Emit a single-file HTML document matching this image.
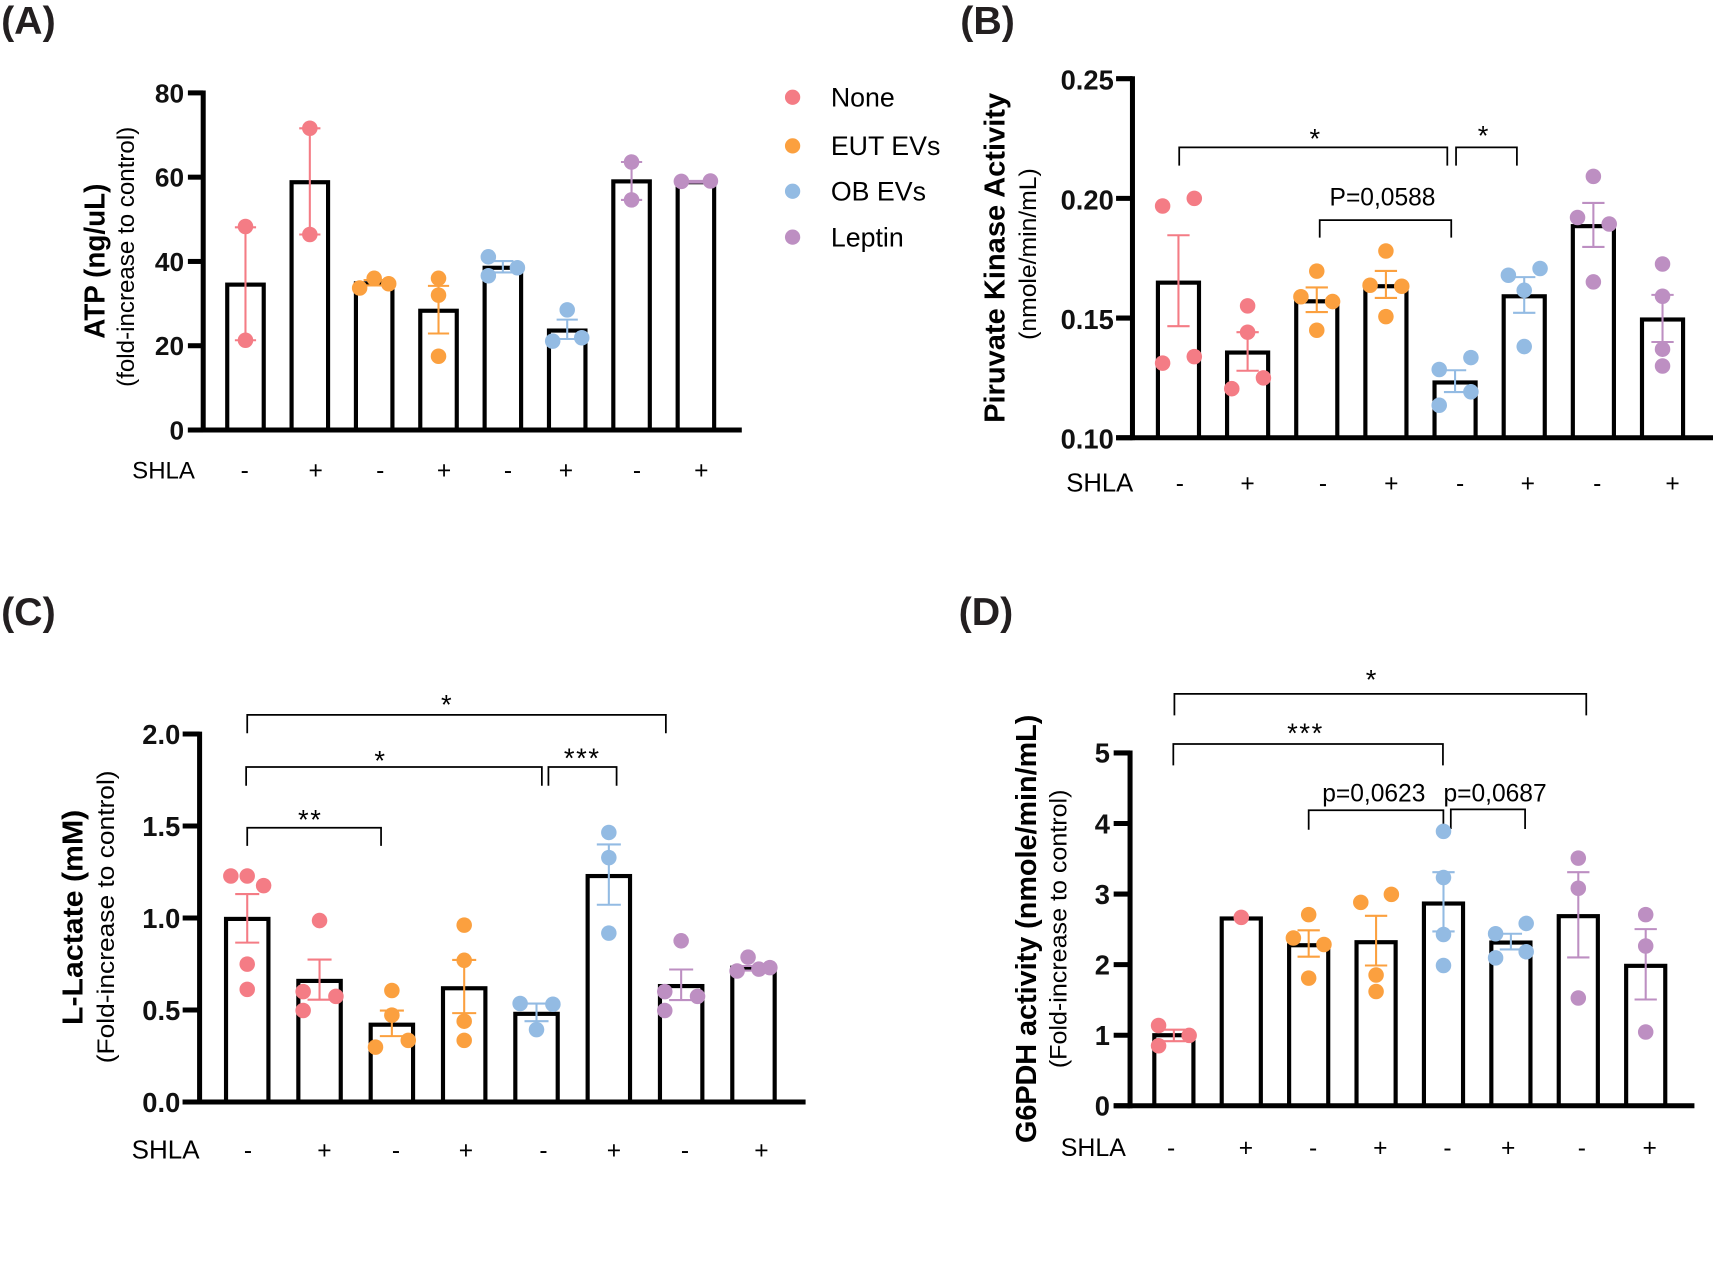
<!DOCTYPE html>
<html lang="en">
<head>
<meta charset="utf-8">
<title>Metabolic activity panels</title>
<style>
html,body{margin:0;padding:0;background:#fff;width:1713px;height:1272px;overflow:hidden}
svg{display:block;font-family:"Liberation Sans",Arial,sans-serif}
.pl{font-size:36px;font-weight:bold;fill:#231f20}
.ti{font-size:26.5px;font-weight:bold;fill:#000}
.su{font-size:22px;fill:#000}
.sh{font-size:22px;fill:#000}
.si{font-size:22.5px;fill:#000;text-anchor:middle}
.le{font-size:24.5px;fill:#000}
.an{font-size:22.5px;fill:#000;text-anchor:middle}
.st{font-size:25px;fill:#000;text-anchor:middle}
.br{fill:none;stroke:#000;stroke-width:1.6}
</style>
</head>
<body>
<svg id="figure" xmlns="http://www.w3.org/2000/svg" width="1713" height="1272" viewBox="0 0 1568 1164" preserveAspectRatio="none">
  <text class="pl" x="1" y="31">(A)</text>
  <text class="pl" x="879" y="31">(B)</text>
  <text class="pl" x="1" y="572">(C)</text>
  <text class="pl" x="877.5" y="572">(D)</text>

  <g>
    <circle cx="725.5" cy="89" r="7" fill="#f47c85"/>
    <text class="le" x="760.5" y="97.5">None</text>
    <circle cx="725.5" cy="133.5" r="7" fill="#fba03f"/>
    <text class="le" x="760.5" y="142">EUT EVs</text>
    <circle cx="725.5" cy="175" r="7" fill="#93bbe3"/>
    <text class="le" x="760.5" y="183.5">OB EVs</text>
    <circle cx="725.5" cy="217" r="7" fill="#bd8fc2"/>
    <text class="le" x="760.5" y="225.5">Leptin</text>
  </g>

  <!-- Axis titles -->
  <text class="ti" transform="translate(95.5,239) rotate(-90)" text-anchor="middle" textLength="142" lengthAdjust="spacingAndGlyphs">ATP (ng/uL)</text>
  <text class="su" transform="translate(122.5,235) rotate(-90)" text-anchor="middle" textLength="238" lengthAdjust="spacingAndGlyphs">(fold-increase to control)</text>
  <text class="ti" transform="translate(919.7,236) rotate(-90)" text-anchor="middle" textLength="302" lengthAdjust="spacingAndGlyphs">Piruvate Kinase Activity</text>
  <text class="su" transform="translate(948.5,232.5) rotate(-90)" text-anchor="middle" textLength="157" lengthAdjust="spacingAndGlyphs">(nmole/min/mL)</text>
  <text class="ti" transform="translate(75.5,839.5) rotate(-90)" text-anchor="middle" textLength="197" lengthAdjust="spacingAndGlyphs">L-Lactate (mM)</text>
  <text class="su" transform="translate(104.5,839) rotate(-90)" text-anchor="middle" textLength="268" lengthAdjust="spacingAndGlyphs">(Fold-increase to control)</text>
  <text class="ti" transform="translate(948.5,850) rotate(-90)" text-anchor="middle" textLength="392" lengthAdjust="spacingAndGlyphs">G6PDH activity (nmole/min/mL)</text>
  <text class="su" transform="translate(976,850) rotate(-90)" text-anchor="middle" textLength="255" lengthAdjust="spacingAndGlyphs">(Fold-increase to control)</text>

  <!-- SHLA rows -->
  <g>
    <text class="sh" x="121" y="438">SHLA</text>
    <text class="si" x="224" y="438">-</text>
    <text class="si" x="289" y="438">+</text>
    <text class="si" x="348" y="438">-</text>
    <text class="si" x="406.5" y="438">+</text>
    <text class="si" x="465" y="438">-</text>
    <text class="si" x="518" y="438">+</text>
    <text class="si" x="583" y="438">-</text>
    <text class="si" x="642" y="438">+</text>
  </g>
  <g>
    <text class="sh" x="976" y="450" style="font-size:23.5px">SHLA</text>
    <text class="si" x="1080" y="450">-</text>
    <text class="si" x="1142" y="450">+</text>
    <text class="si" x="1211" y="450">-</text>
    <text class="si" x="1273.5" y="450">+</text>
    <text class="si" x="1336.5" y="450">-</text>
    <text class="si" x="1398.5" y="450">+</text>
    <text class="si" x="1462" y="450">-</text>
    <text class="si" x="1531" y="450">+</text>
  </g>
  <g>
    <text class="sh" x="120.5" y="1060" style="font-size:23.8px">SHLA</text>
    <text class="si" x="227" y="1060">-</text>
    <text class="si" x="297" y="1060">+</text>
    <text class="si" x="362.5" y="1060">-</text>
    <text class="si" x="426.5" y="1060">+</text>
    <text class="si" x="497.5" y="1060">-</text>
    <text class="si" x="562" y="1060">+</text>
    <text class="si" x="627" y="1060">-</text>
    <text class="si" x="697" y="1060">+</text>
  </g>
  <g>
    <text class="sh" x="971" y="1058" style="font-size:22.8px">SHLA</text>
    <text class="si" x="1072" y="1058">-</text>
    <text class="si" x="1140.5" y="1058">+</text>
    <text class="si" x="1202" y="1058">-</text>
    <text class="si" x="1263.5" y="1058">+</text>
    <text class="si" x="1325" y="1058">-</text>
    <text class="si" x="1380.5" y="1058">+</text>
    <text class="si" x="1448" y="1058">-</text>
    <text class="si" x="1510" y="1058">+</text>
  </g>

  <!-- Significance brackets -->
  <g>
    <path class="br" d="M1079.4 151.6V134.9H1324.8V151.6"/>
    <text class="st" x="1203.5" y="135.5">*</text>
    <path class="br" d="M1332.8 151.6V134.9H1388.5V151.6"/>
    <text class="st" x="1357.5" y="132.5">*</text>
    <path class="br" d="M1208 217.5V201.4H1328.4V217.5"/>
    <text class="an" x="1265.5" y="188">P=0,0588</text>
  </g>
  <g>
    <path class="br" d="M226.3 671V654.2H609.5V671"/>
    <text class="st" x="408.5" y="653.5">*</text>
    <path class="br" d="M225.3 719V701.9H496V719"/>
    <text class="st" x="347.5" y="704.5">*</text>
    <path class="br" d="M502 719V701.9H564.4V719"/>
    <text class="st" x="533" y="702.5" letter-spacing="1.5">***</text>
    <path class="br" d="M226.3 774V757.5H348.8V774"/>
    <text class="st" x="284" y="758.5" letter-spacing="1.5">**</text>
  </g>
  <g>
    <path class="br" d="M1075 654.6V635H1452V654.6"/>
    <text class="st" x="1255" y="630.5">*</text>
    <path class="br" d="M1074 700.4V680.8H1320.8V700.4"/>
    <text class="st" x="1195" y="679.5" letter-spacing="1.5">***</text>
    <path class="br" d="M1197.9 759.3V741.4H1321.2V759.3"/>
    <text class="an" x="1257.5" y="733.5">p=0,0623</text>
    <path class="br" d="M1328 758.6V740.7H1396V758.6"/>
    <text class="an" x="1368.5" y="733.5">p=0,0687</text>
  </g>

  <g id="panel-a"></g>
  <g id="panel-b"></g>
  <g id="panel-c"></g>
  <g id="panel-d"></g>
</svg>

<script>
// Shared categories
const categories = ['None -','None +','EUT EVs -','EUT EVs +','OB EVs -','OB EVs +','Leptin -','Leptin +'];
const groupIndex = [0,0,1,1,2,2,3,3];

// Panel A: ATP
const aTicks = [0,20,40,60,80];
const aTickLabels = ['0','20','40','60','80'];
const aMeans = [34.5,58.8,34.8,28.3,38.5,23.6,59,58.8];
const aErrUpper = [48.1,71.6,35.6,34.2,40.1,26.2,63.6,59.1];
const aErrLower = [21.3,46.4,34.3,22.9,37.4,21.6,54.6,58.7];
const aPoints = [[48.3,21.3],[71.6,46.4],[33.7,36,34.7],[36,32,17.5],[41.1,36.6,38.5],[28.5,21.1,21.9],[63.6,54.6],[59,59.1]];
const aSwarmLanes = [[0,0],[0,0],[-1,0,1],[0,0,0],[-1,-1,1],[0,-1,1],[0,0],[-1,1]];

// Panel B: pyruvate kinase
const bTicks = [0.10,0.15,0.20,0.25];
const bTickLabels = ['0.10','0.15','0.20','0.25'];
const bMeans = [0.1648,0.1356,0.157,0.1633,0.1231,0.1591,0.1884,0.1494];
const bErrUpper = [0.1846,0.1441,0.1628,0.1697,0.1282,0.1671,0.1981,0.1597];
const bErrLower = [0.1466,0.128,0.1525,0.1584,0.1191,0.1522,0.1797,0.14];
const bPoints = [[0.1968,0.1312,0.2,0.1339],[0.1551,0.1441,0.1205,0.125],[0.1696,0.1449,0.1589,0.1569],[0.178,0.1506,0.1637,0.1633],[0.1335,0.1285,0.1192,0.1136],[0.1679,0.1707,0.1616,0.1381],[0.2092,0.192,0.1893,0.1651],[0.1726,0.1591,0.137,0.13]];
const bSwarmLanes = [[-1,-1,1,1],[0,0,-1,1],[0,0,-1,1],[0,0,-1,1],[1,-1,1,-1],[-1,1,0,0],[0,-1,1,0],[0,0,0,0]];

// Panel C: L-lactate
const cTicks = [0,0.5,1,1.5,2];
const cTickLabels = ['0.0','0.5','1.0','1.5','2.0'];
const cMeans = [0.995,0.658,0.42,0.618,0.479,1.228,0.63,0.73];
const cErrUpper = [1.13,0.774,0.497,0.772,0.535,1.4,0.72,0.739];
const cErrLower = [0.866,0.556,0.358,0.483,0.439,1.072,0.554,0.714];
const cPoints = [[1.228,1.228,1.176,0.749,0.612],[0.986,0.6,0.497,0.574],[0.606,0.472,0.298,0.335],[0.961,0.77,0.439,0.335],[0.535,0.531,0.393],[1.465,1.328,0.918],[0.876,0.6,0.497,0.574],[0.712,0.787,0.722,0.73]];
const cSwarmLanes = [[-1,0,1,0,0],[0,-1,-1,1],[0,0,-1,1],[0,0,0,0],[-1,1,0],[0,0,0],[0,-1,-1,1],[-1,-0.33,0.33,1]];

// Panel D: G6PDH
const dTicks = [0,1,2,3,4,5];
const dTickLabels = ['0','1','2','3','4','5'];
const dMeans = [1,2.654,2.275,2.318,2.866,2.313,2.687,1.983];
const dErrUpper = [1.078,null,2.486,2.692,3.31,2.438,3.31,2.503];
const dErrLower = [0.915,null,2.113,1.988,2.47,2.216,2.102,1.506];
const dPoints = [[1.138,0.85,0.997],[2.67],[2.709,1.809,2.378,2.286],[2.882,2.996,1.853,1.62],[3.889,3.234,2.427,1.988],[2.438,2.584,2.183,2.096],[3.51,3.082,1.528],[2.709,2.264,1.046]];
const dSwarmLanes = [[-1,-1,1],[0],[0,0,-1,1],[-1,1,0,0],[0,0,0,0],[-1,1,1,-1],[0,0,0],[0,0,0]];

const groupColors = ['#f47c85','#fba03f','#93bbe3','#bd8fc2'];
const NS = 'http://www.w3.org/2000/svg';

function make(parent, tag, props) {
  const el = document.createElementNS(NS, tag);
  for (const k in props) el.setAttribute(k, props[k]);
  parent.appendChild(el);
  return el;
}

function drawPanel(id, data, geo) {
  const root = document.getElementById(id);
  const yMin = data.ticks[0];
  const yMax = data.ticks[data.ticks.length - 1];
  const yScale = v => geo.yBottom + (v - yMin) * (geo.yTop - geo.yBottom) / (yMax - yMin);
  const xScale = i => geo.xFirst + i * geo.xStep;

  categories.forEach((cat, i) => {
    const cx = xScale(i);
    const color = groupColors[groupIndex[i]];
    const top = yScale(data.means[i]);

    const bar = make(root, 'rect', {x: cx - geo.barWidth / 2, y: top, width: geo.barWidth, height: geo.yBottom - top, fill: '#fff', stroke: '#000', 'stroke-width': 3.8});
    
    
    bar.setAttribute('aria-label', cat);

    if (data.upper[i] !== null) {
      const yU = yScale(data.upper[i]);
      const yL = yScale(data.lower[i]);
      const whisker = make(root, 'path', {
        d: 'M' + (cx - geo.cap) + ' ' + yU + 'H' + (cx + geo.cap) + 'M' + cx + ' ' + yU + 'V' + yL + 'M' + (cx - geo.cap) + ' ' + yL + 'H' + (cx + geo.cap),
        fill: 'none', stroke: color, 'stroke-width': 1.9
      });
      
      
    }

    data.points[i].forEach((v, j) => {
      const dot = make(root, 'circle', {cx: cx + data.lanes[i][j] * geo.laneStep, cy: yScale(v), r: 7.1, fill: color});
      
      
    });
  });

  const yAxis = make(root, 'line', {x1: geo.xAxis, x2: geo.xAxis, y1: geo.yTop - 2.2, y2: geo.yBottom + 2.2, stroke: '#000', 'stroke-width': 4.6});
  
  

  const xAxis = make(root, 'line', {x1: geo.xAxis - geo.tickLen, x2: geo.xEnd, y1: geo.yBottom, y2: geo.yBottom, stroke: '#000', 'stroke-width': 4.6});
  
  

  data.ticks.forEach((t, i) => {
    const y = yScale(t);
    const tick = make(root, 'line', {x1: geo.xAxis - geo.tickLen, x2: geo.xAxis, y1: y, y2: y, stroke: '#000', 'stroke-width': 4.6});
    
    

    const label = make(root, 'text', {x: geo.labelRight, y: y + geo.labelShift, dy: '.36em', 'text-anchor': 'end', 'font-size': geo.tickFont, 'font-weight': 'bold', fill: '#111'});
    label.textContent = data.tickLabels[i];
    
    
  });
}

drawPanel('panel-a',
  {ticks: aTicks, tickLabels: aTickLabels, means: aMeans, upper: aErrUpper, lower: aErrLower, points: aPoints, lanes: aSwarmLanes},
  {xAxis: 186, xEnd: 679, yTop: 85, yBottom: 393.5, xFirst: 224.7, xStep: 58.9, barWidth: 33.4, cap: 9.7, laneStep: 13.3, tickLen: 14, labelRight: 168.5, tickFont: 24, labelShift: 0});

drawPanel('panel-b',
  {ticks: bTicks, tickLabels: bTickLabels, means: bMeans, upper: bErrUpper, lower: bErrLower, points: bPoints, lanes: bSwarmLanes},
  {xAxis: 1036.6, xEnd: 1568, yTop: 72, yBottom: 400.6, xFirst: 1078.7, xStep: 63.3, barWidth: 37.6, cap: 10.2, laneStep: 14.5, tickLen: 15, labelRight: 1019.5, tickFont: 25, labelShift: 1});

drawPanel('panel-c',
  {ticks: cTicks, tickLabels: cTickLabels, means: cMeans, upper: cErrUpper, lower: cErrLower, points: cPoints, lanes: cSwarmLanes},
  {xAxis: 182.7, xEnd: 737.4, yTop: 671.7, yBottom: 1008.4, xFirst: 226.3, xStep: 66.2, barWidth: 38.8, cap: 11, laneStep: 15, tickLen: 15.5, labelRight: 165, tickFont: 25, labelShift: 0});

drawPanel('panel-d',
  {ticks: dTicks, tickLabels: dTickLabels, means: dMeans, upper: dErrUpper, lower: dErrLower, points: dPoints, lanes: dSwarmLanes},
  {xAxis: 1034.4, xEnd: 1551, yTop: 689, yBottom: 1011.9, xFirst: 1074.5, xStep: 61.7, barWidth: 35.8, cap: 10.2, laneStep: 14, tickLen: 15, labelRight: 1016, tickFont: 25, labelShift: 0});
</script>
</body>
</html>
